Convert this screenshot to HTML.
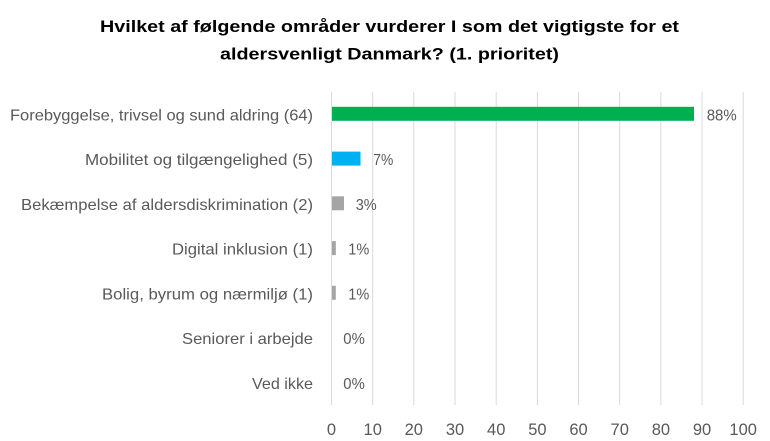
<!DOCTYPE html>
<html>
<head>
<meta charset="utf-8">
<style>
html,body{margin:0;padding:0;background:#fff;}
svg{display:block;}
text{font-family:"Liberation Sans",sans-serif;}
</style>
</head>
<body>
<svg width="770" height="441" viewBox="0 0 770 441" xmlns="http://www.w3.org/2000/svg">
<rect width="770" height="441" fill="#fff"/>
<!-- title -->
<text x="389.5" y="32" text-anchor="middle" font-size="17" font-weight="bold" fill="#000" textLength="579" lengthAdjust="spacingAndGlyphs">Hvilket af følgende områder vurderer I som det vigtigste for et</text>
<text x="389.5" y="59.5" text-anchor="middle" font-size="17" font-weight="bold" fill="#000" textLength="339" lengthAdjust="spacingAndGlyphs">aldersvenligt Danmark? (1. prioritet)</text>
<!-- gridlines -->
<g stroke="#D9D9D9" stroke-width="1">
<line x1="331.5" y1="92" x2="331.5" y2="405"/>
<line x1="372.7" y1="92" x2="372.7" y2="405"/>
<line x1="413.8" y1="92" x2="413.8" y2="405"/>
<line x1="455" y1="92" x2="455" y2="405"/>
<line x1="496.2" y1="92" x2="496.2" y2="405"/>
<line x1="537.4" y1="92" x2="537.4" y2="405"/>
<line x1="578.5" y1="92" x2="578.5" y2="405"/>
<line x1="619.7" y1="92" x2="619.7" y2="405"/>
<line x1="660.9" y1="92" x2="660.9" y2="405"/>
<line x1="702" y1="92" x2="702" y2="405"/>
<line x1="743.2" y1="92" x2="743.2" y2="405"/>
</g>
<!-- bars -->
<rect x="332" y="106.8" width="362" height="14" fill="#00B050"/>
<rect x="332" y="151.6" width="28.5" height="14" fill="#00B0F0"/>
<rect x="332" y="196.3" width="12" height="14" fill="#A5A5A5"/>
<rect x="332" y="241.1" width="3.8" height="14" fill="#A5A5A5"/>
<rect x="332" y="285.8" width="3.8" height="14" fill="#A5A5A5"/>
<!-- category labels -->
<g font-size="16" fill="#595959" text-anchor="end">
<text x="313" y="120.3" textLength="303" lengthAdjust="spacingAndGlyphs">Forebyggelse, trivsel og sund aldring (64)</text>
<text x="313" y="165" textLength="228" lengthAdjust="spacingAndGlyphs">Mobilitet og tilgængelighed (5)</text>
<text x="313" y="209.8" textLength="292" lengthAdjust="spacingAndGlyphs">Bekæmpelse af aldersdiskrimination (2)</text>
<text x="313" y="254.5" textLength="141" lengthAdjust="spacingAndGlyphs">Digital inklusion (1)</text>
<text x="313" y="299.3" textLength="211" lengthAdjust="spacingAndGlyphs">Bolig, byrum og nærmiljø (1)</text>
<text x="313" y="344" textLength="131" lengthAdjust="spacingAndGlyphs">Seniorer i arbejde</text>
<text x="313" y="388.8" textLength="61" lengthAdjust="spacingAndGlyphs">Ved ikke</text>
</g>
<!-- value labels -->
<g font-size="16" fill="#595959">
<text x="706.7" y="120.3" textLength="30" lengthAdjust="spacingAndGlyphs">88%</text>
<text x="373.3" y="165" textLength="20" lengthAdjust="spacingAndGlyphs">7%</text>
<text x="355.7" y="209.8" textLength="21" lengthAdjust="spacingAndGlyphs">3%</text>
<text x="348.3" y="254.5" textLength="21" lengthAdjust="spacingAndGlyphs">1%</text>
<text x="348.3" y="299.3" textLength="21" lengthAdjust="spacingAndGlyphs">1%</text>
<text x="343.3" y="344" textLength="21.5" lengthAdjust="spacingAndGlyphs">0%</text>
<text x="343.3" y="388.8" textLength="21.5" lengthAdjust="spacingAndGlyphs">0%</text>
</g>
<!-- axis tick labels -->
<g font-size="16.5" fill="#595959" text-anchor="middle">
<text x="331.5" y="435">0</text>
<text x="372.7" y="435">10</text>
<text x="413.8" y="435">20</text>
<text x="455" y="435">30</text>
<text x="496.2" y="435">40</text>
<text x="537.4" y="435">50</text>
<text x="578.5" y="435">60</text>
<text x="619.7" y="435">70</text>
<text x="660.9" y="435">80</text>
<text x="702" y="435">90</text>
<text x="743.2" y="435">100</text>
</g>
</svg>
</body>
</html>
